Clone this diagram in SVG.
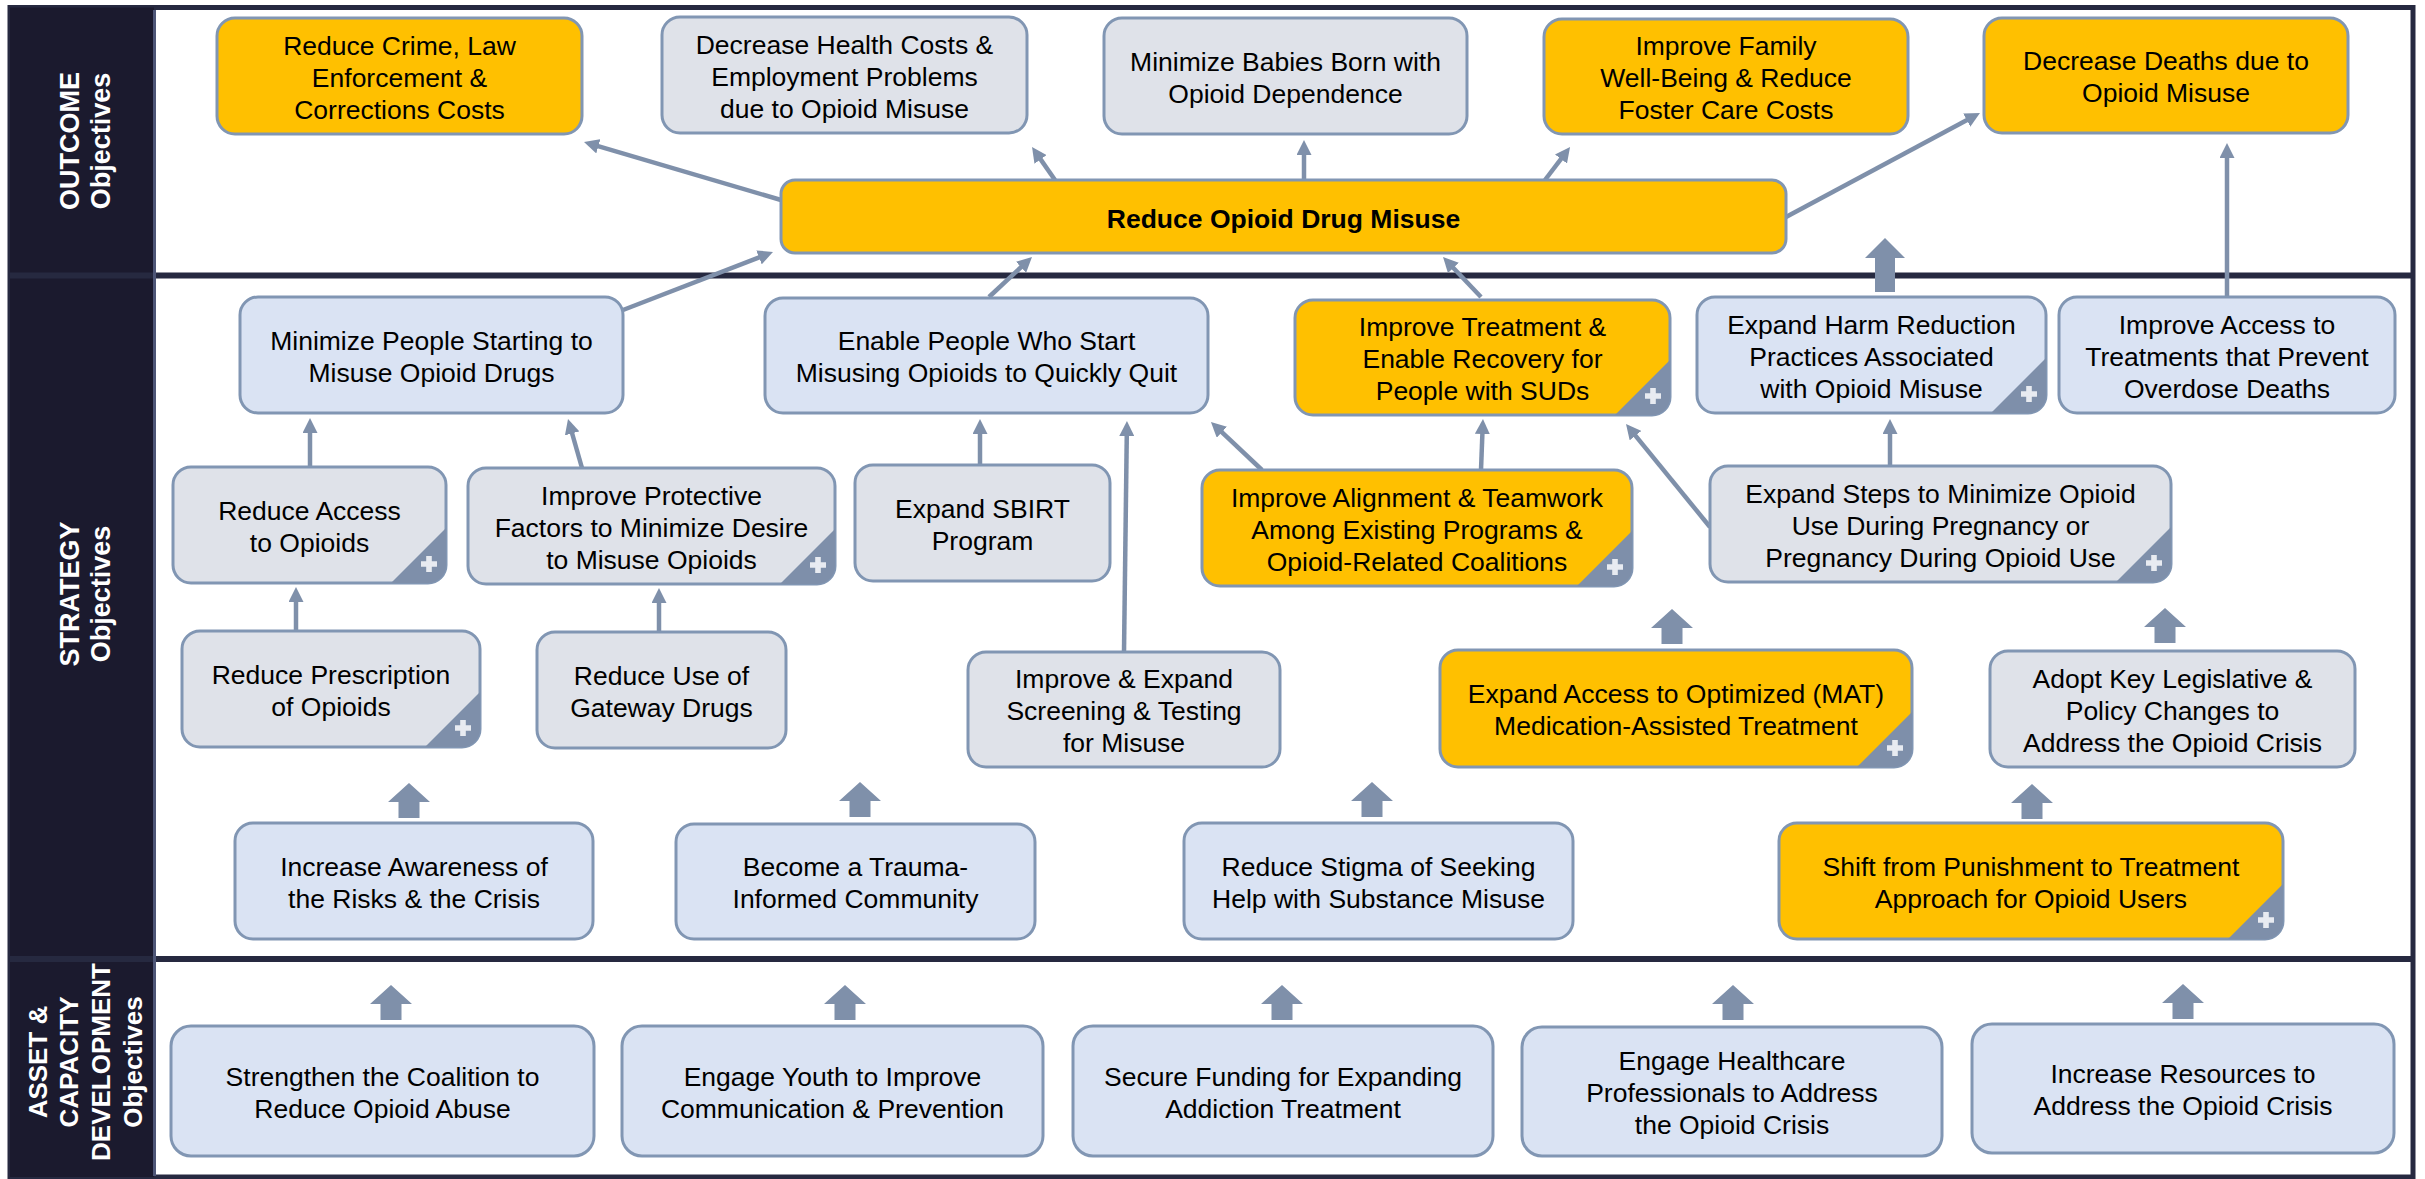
<svg xmlns="http://www.w3.org/2000/svg" xmlns:xlink="http://www.w3.org/1999/xlink" width="2425" height="1179" viewBox="0 0 2425 1179">
<style>
.n{stroke:#8196B3;stroke-width:3}
.y{fill:#FFC000}
.g{fill:#DFE2E9}
.b{fill:#DAE3F3}
.t{font-family:"Liberation Sans",Arial,sans-serif;font-size:26.5px;fill:#000;text-anchor:middle}
.lab{font-family:"Liberation Sans",Arial,sans-serif;font-weight:bold;fill:#FFFFFF;text-anchor:middle}
.c{fill:none;stroke:#7F90AA;stroke-width:4.5;marker-end:url(#ah)}
.tri{fill:#7E8FAA}
.blk{fill:#7F90AA}
</style>
<defs>
<marker id="ah" markerUnits="userSpaceOnUse" markerWidth="15" markerHeight="15" refX="3" refY="7.5" orient="auto"><path d="M0,0 L15,7.5 L0,15 z" fill="#7F90AA"/></marker>
<path id="blkA" d="M0,0 L21,19 L10.5,19 L10.5,35 L-10.5,35 L-10.5,19 L-21,19 Z"/>
<path id="plus" d="M-2.8,-8 h5.6 v5.2 h5.2 v5.6 h-5.2 v5.2 h-5.6 v-5.2 h-5.2 v-5.6 h5.2 z" fill="#E8EBF1"/>
</defs>
<rect x="0" y="0" width="2425" height="1179" fill="#FFFFFF"/>
<g id="frame">
<rect x="10" y="7.5" width="2403" height="1169.5" fill="#FFFFFF" stroke="#262940" stroke-width="5"/>
<rect x="10" y="7.5" width="144" height="1169.5" fill="#1B1A2E"/>
<rect x="10" y="272.5" width="2403" height="6" fill="#262940"/>
<rect x="10" y="956" width="2403" height="6" fill="#262940"/>
<line x1="154.5" y1="10" x2="154.5" y2="1176" stroke="#4E5677" stroke-width="3"/>
</g>
<g id="labels">
<text class="lab" font-size="27" transform="translate(79,141) rotate(-90)">OUTCOME</text>
<text class="lab" font-size="27" transform="translate(110,141) rotate(-90)">Objectives</text>
<text class="lab" font-size="27" transform="translate(79,594) rotate(-90)">STRATEGY</text>
<text class="lab" font-size="27" transform="translate(110,594) rotate(-90)">Objectives</text>
<text class="lab" font-size="26" transform="translate(47,1062) rotate(-90)">ASSET &amp;</text>
<text class="lab" font-size="26" transform="translate(78,1062) rotate(-90)">CAPACITY</text>
<text class="lab" font-size="26" transform="translate(110,1062) rotate(-90)">DEVELOPMENT</text>
<text class="lab" font-size="26" transform="translate(142,1062) rotate(-90)">Objectives</text>
</g>
<g id="connectors">
<path class="c" d="M781,200 L595.5,145.4"/>
<path class="c" d="M1055,180 L1038.9,156.9"/>
<path class="c" d="M1304,180 L1304,152"/>
<path class="c" d="M1545,180 L1562.8,156.6"/>
<path class="c" d="M1786,217 L1969.4,118.7"/>
<path class="c" d="M2227,297 L2227,155"/>
<path class="c" d="M623,310 L761.8,256.3"/>
<path class="c" d="M989,297 L1023.2,265.2"/>
<path class="c" d="M1481,297 L1451.3,265.7"/>
<path class="c" d="M310,467 L310,430"/>
<path class="c" d="M582,468 L571.3,430.5"/>
<path class="c" d="M296,631 L296,599"/>
<path class="c" d="M659,632 L659,600"/>
<path class="c" d="M980,465 L980,431"/>
<path class="c" d="M1124,652 L1126.8,433"/>
<path class="c" d="M1262,470 L1219.7,430.2"/>
<path class="c" d="M1481,470 L1482.5,431"/>
<path class="c" d="M1710,527 L1633.6,433.3"/>
<path class="c" d="M1890,466 L1890,431"/>
<path class="blk" d="M1885,238 L1905,258 L1895,258 L1895,292 L1875,292 L1875,258 L1865,258 Z"/>
<use xlink:href="#blkA" class="blk" x="1672" y="609"/>
<use xlink:href="#blkA" class="blk" x="2165" y="608"/>
<use xlink:href="#blkA" class="blk" x="409" y="783"/>
<use xlink:href="#blkA" class="blk" x="860" y="782"/>
<use xlink:href="#blkA" class="blk" x="1372" y="782"/>
<use xlink:href="#blkA" class="blk" x="2032" y="784"/>
<use xlink:href="#blkA" class="blk" x="391" y="985"/>
<use xlink:href="#blkA" class="blk" x="845" y="985"/>
<use xlink:href="#blkA" class="blk" x="1282" y="985"/>
<use xlink:href="#blkA" class="blk" x="1733" y="985"/>
<use xlink:href="#blkA" class="blk" x="2183" y="984"/>
</g>
<g id="o1"><rect class="n y" x="217" y="18" width="365" height="116" rx="18"/><text class="t"><tspan x="399.5" y="54.5">Reduce Crime, Law</tspan><tspan x="399.5" y="86.5">Enforcement &amp;</tspan><tspan x="399.5" y="118.5">Corrections Costs</tspan></text></g>
<g id="o2"><rect class="n g" x="662" y="17" width="365" height="116" rx="18"/><text class="t"><tspan x="844.5" y="53.5">Decrease Health Costs &amp;</tspan><tspan x="844.5" y="85.5">Employment Problems</tspan><tspan x="844.5" y="117.5">due to Opioid Misuse</tspan></text></g>
<g id="o3"><rect class="n g" x="1104" y="18" width="363" height="116" rx="18"/><text class="t"><tspan x="1285.5" y="70.5">Minimize Babies Born with</tspan><tspan x="1285.5" y="102.5">Opioid Dependence</tspan></text></g>
<g id="o4"><rect class="n y" x="1544" y="19" width="364" height="115" rx="18"/><text class="t"><tspan x="1726" y="55">Improve Family</tspan><tspan x="1726" y="87">Well-Being &amp; Reduce</tspan><tspan x="1726" y="119">Foster Care Costs</tspan></text></g>
<g id="o5"><rect class="n y" x="1984" y="18" width="364" height="115" rx="18"/><text class="t"><tspan x="2166" y="70">Decrease Deaths due to</tspan><tspan x="2166" y="102">Opioid Misuse</tspan></text></g>
<g id="main"><rect class="n y" x="781" y="180" width="1005" height="73" rx="14"/><text class="t" x="1283.5" y="228" font-weight="bold" font-size="28">Reduce Opioid Drug Misuse</text></g>
<g id="s1"><rect class="n b" x="240" y="297" width="383" height="116" rx="18"/><text class="t"><tspan x="431.5" y="349.5">Minimize People Starting to</tspan><tspan x="431.5" y="381.5">Misuse Opioid Drugs</tspan></text></g>
<g id="s2"><rect class="n b" x="765" y="298" width="443" height="115" rx="18"/><text class="t"><tspan x="986.5" y="350">Enable People Who Start</tspan><tspan x="986.5" y="382">Misusing Opioids to Quickly Quit</tspan></text></g>
<g id="s3"><rect class="n y" x="1295" y="300" width="375" height="115" rx="18"/><path class="tri" d="M1615,415 L1670,360 L1670,397 A18,18 0 0 1 1652,415 Z"/><use xlink:href="#plus" x="1653" y="396"/><text class="t"><tspan x="1482.5" y="336">Improve Treatment &amp;</tspan><tspan x="1482.5" y="368">Enable Recovery for</tspan><tspan x="1482.5" y="400">People with SUDs</tspan></text></g>
<g id="s4"><rect class="n b" x="1697" y="297" width="349" height="116" rx="18"/><path class="tri" d="M1991,413 L2046,358 L2046,395 A18,18 0 0 1 2028,413 Z"/><use xlink:href="#plus" x="2029" y="394"/><text class="t"><tspan x="1871.5" y="333.5">Expand Harm Reduction</tspan><tspan x="1871.5" y="365.5">Practices Associated</tspan><tspan x="1871.5" y="397.5">with Opioid Misuse</tspan></text></g>
<g id="s5"><rect class="n b" x="2059" y="297" width="336" height="116" rx="18"/><text class="t"><tspan x="2227" y="333.5">Improve Access to</tspan><tspan x="2227" y="365.5">Treatments that Prevent</tspan><tspan x="2227" y="397.5">Overdose Deaths</tspan></text></g>
<g id="s6"><rect class="n g" x="173" y="467" width="273" height="116" rx="18"/><path class="tri" d="M391,583 L446,528 L446,565 A18,18 0 0 1 428,583 Z"/><use xlink:href="#plus" x="429" y="564"/><text class="t"><tspan x="309.5" y="519.5">Reduce Access</tspan><tspan x="309.5" y="551.5">to Opioids</tspan></text></g>
<g id="s7"><rect class="n g" x="468" y="468" width="367" height="116" rx="18"/><path class="tri" d="M780,584 L835,529 L835,566 A18,18 0 0 1 817,584 Z"/><use xlink:href="#plus" x="818" y="565"/><text class="t"><tspan x="651.5" y="504.5">Improve Protective</tspan><tspan x="651.5" y="536.5">Factors to Minimize Desire</tspan><tspan x="651.5" y="568.5">to Misuse Opioids</tspan></text></g>
<g id="s8"><rect class="n g" x="855" y="465" width="255" height="116" rx="18"/><text class="t"><tspan x="982.5" y="517.5">Expand SBIRT</tspan><tspan x="982.5" y="549.5">Program</tspan></text></g>
<g id="s9"><rect class="n y" x="1202" y="470" width="430" height="116" rx="18"/><path class="tri" d="M1577,586 L1632,531 L1632,568 A18,18 0 0 1 1614,586 Z"/><use xlink:href="#plus" x="1615" y="567"/><text class="t"><tspan x="1417" y="506.5">Improve Alignment &amp; Teamwork</tspan><tspan x="1417" y="538.5">Among Existing Programs &amp;</tspan><tspan x="1417" y="570.5">Opioid-Related Coalitions</tspan></text></g>
<g id="s10"><rect class="n g" x="1710" y="466" width="461" height="116" rx="18"/><path class="tri" d="M2116,582 L2171,527 L2171,564 A18,18 0 0 1 2153,582 Z"/><use xlink:href="#plus" x="2154" y="563"/><text class="t"><tspan x="1940.5" y="502.5">Expand Steps to Minimize Opioid</tspan><tspan x="1940.5" y="534.5">Use During Pregnancy or</tspan><tspan x="1940.5" y="566.5">Pregnancy During Opioid Use</tspan></text></g>
<g id="s11"><rect class="n g" x="182" y="631" width="298" height="116" rx="18"/><path class="tri" d="M425,747 L480,692 L480,729 A18,18 0 0 1 462,747 Z"/><use xlink:href="#plus" x="463" y="728"/><text class="t"><tspan x="331" y="683.5">Reduce Prescription</tspan><tspan x="331" y="715.5">of Opioids</tspan></text></g>
<g id="s12"><rect class="n g" x="537" y="632" width="249" height="116" rx="18"/><text class="t"><tspan x="661.5" y="684.5">Reduce Use of</tspan><tspan x="661.5" y="716.5">Gateway Drugs</tspan></text></g>
<g id="s13"><rect class="n g" x="968" y="652" width="312" height="115" rx="18"/><text class="t"><tspan x="1124" y="688">Improve &amp; Expand</tspan><tspan x="1124" y="720">Screening &amp; Testing</tspan><tspan x="1124" y="752">for Misuse</tspan></text></g>
<g id="s14"><rect class="n y" x="1440" y="650" width="472" height="117" rx="18"/><path class="tri" d="M1857,767 L1912,712 L1912,749 A18,18 0 0 1 1894,767 Z"/><use xlink:href="#plus" x="1895" y="748"/><text class="t"><tspan x="1676" y="703">Expand Access to Optimized (MAT)</tspan><tspan x="1676" y="735">Medication-Assisted Treatment</tspan></text></g>
<g id="s15"><rect class="n g" x="1990" y="651" width="365" height="116" rx="18"/><text class="t"><tspan x="2172.5" y="687.5">Adopt Key Legislative &amp;</tspan><tspan x="2172.5" y="719.5">Policy Changes to</tspan><tspan x="2172.5" y="751.5">Address the Opioid Crisis</tspan></text></g>
<g id="s16"><rect class="n b" x="235" y="823" width="358" height="116" rx="18"/><text class="t"><tspan x="414" y="875.5">Increase Awareness of</tspan><tspan x="414" y="907.5">the Risks &amp; the Crisis</tspan></text></g>
<g id="s17"><rect class="n b" x="676" y="824" width="359" height="115" rx="18"/><text class="t"><tspan x="855.5" y="876">Become a Trauma-</tspan><tspan x="855.5" y="908">Informed Community</tspan></text></g>
<g id="s18"><rect class="n b" x="1184" y="823" width="389" height="116" rx="18"/><text class="t"><tspan x="1378.5" y="875.5">Reduce Stigma of Seeking</tspan><tspan x="1378.5" y="907.5">Help with Substance Misuse</tspan></text></g>
<g id="s19"><rect class="n y" x="1779" y="823" width="504" height="116" rx="18"/><path class="tri" d="M2228,939 L2283,884 L2283,921 A18,18 0 0 1 2265,939 Z"/><use xlink:href="#plus" x="2266" y="920"/><text class="t"><tspan x="2031" y="875.5">Shift from Punishment to Treatment</tspan><tspan x="2031" y="907.5">Approach for Opioid Users</tspan></text></g>
<g id="a1"><rect class="n b" x="171" y="1026" width="423" height="130" rx="20"/><text class="t"><tspan x="382.5" y="1085.5">Strengthen the Coalition to</tspan><tspan x="382.5" y="1117.5">Reduce Opioid Abuse</tspan></text></g>
<g id="a2"><rect class="n b" x="622" y="1026" width="421" height="130" rx="20"/><text class="t"><tspan x="832.5" y="1085.5">Engage Youth to Improve</tspan><tspan x="832.5" y="1117.5">Communication &amp; Prevention</tspan></text></g>
<g id="a3"><rect class="n b" x="1073" y="1026" width="420" height="130" rx="20"/><text class="t"><tspan x="1283" y="1085.5">Secure Funding for Expanding</tspan><tspan x="1283" y="1117.5">Addiction Treatment</tspan></text></g>
<g id="a4"><rect class="n b" x="1522" y="1027" width="420" height="129" rx="20"/><text class="t"><tspan x="1732" y="1070">Engage Healthcare</tspan><tspan x="1732" y="1102">Professionals to Address</tspan><tspan x="1732" y="1134">the Opioid Crisis</tspan></text></g>
<g id="a5"><rect class="n b" x="1972" y="1024" width="422" height="129" rx="20"/><text class="t"><tspan x="2183" y="1083">Increase Resources to</tspan><tspan x="2183" y="1115">Address the Opioid Crisis</tspan></text></g>
</svg>
